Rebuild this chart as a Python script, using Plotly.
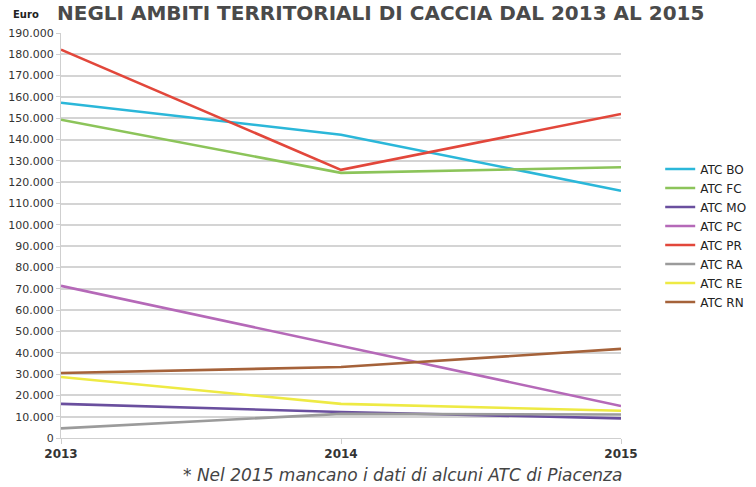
import plotly.graph_objects as go

years = [2013, 2014, 2015]
year_labels = ["2013", "2014", "2015"]

atc_names = ["ATC BO", "ATC FC", "ATC MO", "ATC PC", "ATC PR", "ATC RA", "ATC RE", "ATC RN"]
atc_bo = [157300, 142300, 116000]
atc_fc = [149300, 124400, 127000]
atc_mo = [16000, 12200, 9200]
atc_pc = [71400, 43200, 15000]
atc_pr = [182200, 125800, 152000]
atc_ra = [4500, 11300, 11000]
atc_re = [28600, 16000, 12800]
atc_rn = [30500, 33300, 41800]

series = [atc_bo, atc_fc, atc_mo, atc_pc, atc_pr, atc_ra, atc_re, atc_rn]
colors = ["#2bb7d9", "#8cc45a", "#6a4f9e", "#b569b8", "#e2473b", "#9b9b9b", "#eeea44", "#a5623a"]

y_ticks = list(range(0, 190001, 10000))
y_tick_labels = ["{:,}".format(v).replace(",", ".") for v in y_ticks]

fig = go.Figure()
for name, vals, col in zip(atc_names, series, colors):
    fig.add_trace(go.Scatter(
        x=years, y=vals, name=name, mode="lines",
        line=dict(color=col, width=2.6),
    ))

font_family = "'DejaVu Sans', Arial, sans-serif"

fig.update_layout(
    width=756, height=487,
    margin=dict(l=61, r=135, t=33, b=49, autoexpand=False),
    paper_bgcolor="white", plot_bgcolor="white",
    font=dict(family=font_family, color="#333333", size=11),
    showlegend=True,
    legend=dict(
        x=1.07, y=0.7, xanchor="left", yanchor="top",
        font=dict(size=12, color="#222222"),
        itemwidth=30, tracegroupgap=0,
        bgcolor="rgba(0,0,0,0)",
    ),
    xaxis=dict(
        range=[2013, 2015], tickvals=years,
        ticktext=["<b>%s</b>" % t for t in year_labels],
        showgrid=False, zeroline=False,
        showline=True, linecolor="#cfcfcf", linewidth=1,
        ticks="outside", ticklen=5, tickcolor="#cfcfcf",
        tickfont=dict(size=12, color="#333333"),
    ),
    yaxis=dict(
        range=[0, 190000], tickvals=y_ticks, ticktext=y_tick_labels,
        showgrid=True, gridcolor="#d4d4d4", gridwidth=2,
        zeroline=False,
        showline=True, linecolor="#cfcfcf", linewidth=1,
        ticks="outside", ticklen=4, tickcolor="#cfcfcf",
        tickfont=dict(size=11, color="#333333"),
    ),
)

fig.add_annotation(
    text="<b>NEGLI AMBITI TERRITORIALI DI CACCIA DAL 2013 AL 2015</b>",
    xref="paper", yref="paper", x=0.57, y=1.083,
    xanchor="center", yanchor="top", showarrow=False,
    font=dict(size=20, color="#4a4a4a", family="'DejaVu Sans', Arial, sans-serif"),
)
fig.add_annotation(
    text="<b>Euro</b>",
    xref="paper", yref="paper", x=-0.09, y=1.045,
    xanchor="left", yanchor="middle", showarrow=False,
    font=dict(size=10, color="#222222"),
)
fig.add_annotation(
    text="<i>* Nel 2015 mancano i dati di alcuni ATC di Piacenza</i>",
    xref="paper", yref="paper", x=0.61, y=-0.092,
    xanchor="center", yanchor="middle", showarrow=False,
    font=dict(size=17, color="#444444"),
)

fig.write_html("out.html")
